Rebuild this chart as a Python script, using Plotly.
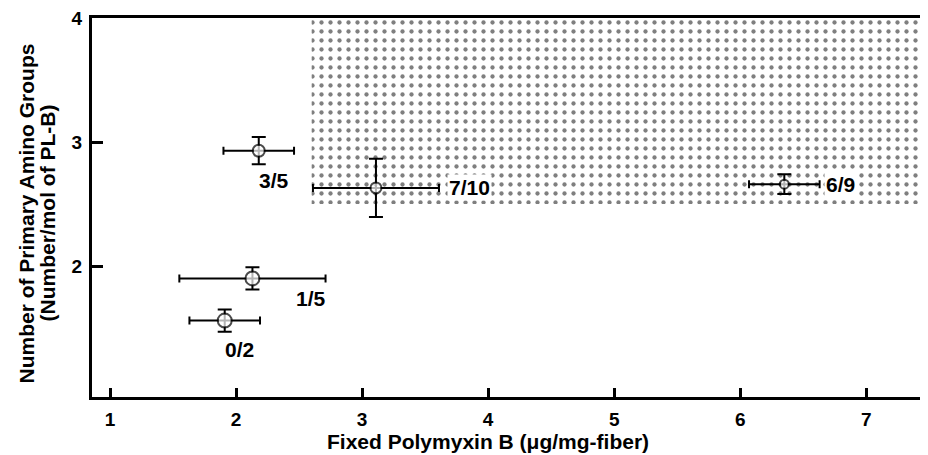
import plotly.graph_objects as go

# fixed polymyxin B (ug/mg-fiber) and primary amino groups per mol of PL-B
labels = ['0/2', '1/5', '3/5', '7/10', '6/9']
fixed_pmb = [1.91, 2.13, 2.18, 3.11, 6.35]
fixed_pmb_err = [0.28, 0.58, 0.28, 0.50, 0.28]
amino_groups = [1.56, 1.90, 2.93, 2.63, 2.66]
amino_groups_err = [0.09, 0.09, 0.11, 0.235, 0.08]

# dotted region
region_x = [2.6, 7.6]
region_y = [2.5, 4.0]

x_ticks = [1, 2, 3, 4, 5, 6, 7]
y_ticks = [2, 3, 4]

FONT = 'Liberation Sans, Arial, sans-serif'

fig = go.Figure()

fig.add_trace(go.Scatter(
    x=[region_x[0], region_x[1], region_x[1], region_x[0], region_x[0]],
    y=[region_y[0], region_y[0], region_y[1], region_y[1], region_y[0]],
    fill='toself',
    mode='lines',
    line={'width': 0, 'color': 'rgba(0,0,0,0)'},
    fillcolor='rgba(0,0,0,0)',
    fillpattern={'shape': '.', 'size': 9, 'solidity': 0.18,
                 'fgcolor': 'black', 'bgcolor': 'white'},
    hoverinfo='skip',
    showlegend=False
))

fig.add_trace(go.Scatter(
    x=fixed_pmb,
    y=amino_groups,
    mode='markers',
    marker={
        'size': [14, 14, 12, 11, 9],
        'color': 'white',
        'symbol': 'circle',
        'line': {'width': 2, 'color': 'black'}
    },
    error_x={'type': 'data', 'array': fixed_pmb_err, 'color': 'black',
             'thickness': 2, 'width': 4},
    error_y={'type': 'data', 'array': amino_groups_err, 'color': 'black',
             'thickness': 2, 'width': 7},
    showlegend=False
))

# label offsets (px) from each point
offsets = [(15, -29, 'center'), (59, -20, 'center'), (15, -30, 'center'),
           (71, 0, 'left'), (40, 0, 'left')]
for lab, x, y, (dx, dy, anchor) in zip(labels, fixed_pmb, amino_groups, offsets):
    fig.add_annotation(
        x=x, y=y, xref='x', yref='y', text=lab, showarrow=False,
        xshift=dx, yshift=dy, xanchor=anchor, yanchor='middle',
        bgcolor='white', borderpad=1,
        font={'family': FONT, 'size': 21, 'color': 'black', 'weight': 'bold'}
    )

title_font = {'family': FONT, 'size': 21, 'color': 'black', 'weight': 'bold'}
fig.add_annotation(
    x=4.0, y=0, xref='x', yref='paper', yanchor='middle', yshift=-44,
    text='Fixed Polymyxin B (\u03bcg/mg-fiber)', showarrow=False,
    font=title_font
)
fig.add_annotation(
    x=0, y=0.5, xref='paper', yref='paper', xanchor='center', yanchor='middle',
    xshift=-66, yshift=-6, textangle=-90,
    text='Number of Primary Amino Groups', showarrow=False,
    font=title_font
)
fig.add_annotation(
    x=0, y=0.5, xref='paper', yref='paper', xanchor='center', yanchor='middle',
    xshift=-45, yshift=-6, textangle=-90,
    text='(Number/mol of PL-B)', showarrow=False,
    font=title_font
)

# page body adds an 8px margin, so the figure is 8px smaller than the window
fig.update_layout(
    width=920, height=447,
    margin={'l': 84, 'r': 0, 't': 7, 'b': 58},
    paper_bgcolor='white', plot_bgcolor='white',
    font={'family': FONT, 'size': 19, 'color': 'black', 'weight': 'bold'},
    xaxis={
        'range': [0.857, 7.49], 'tickvals': x_ticks, 'ticks': 'inside',
        'ticklen': 9, 'tickwidth': 3, 'tickcolor': 'black',
        'showline': True, 'linewidth': 3, 'linecolor': 'black', 'mirror': True,
        'showgrid': False, 'zeroline': False, 'ticklabelstandoff': 3
    },
    yaxis={
        'range': [0.944, 4.0], 'tickvals': y_ticks, 'ticks': 'inside',
        'ticklen': 11, 'tickwidth': 3, 'tickcolor': 'black',
        'showline': True, 'linewidth': 3, 'linecolor': 'black',
        'showgrid': False, 'zeroline': False, 'ticklabelstandoff': 3,
        'ticklabeloverflow': 'allow'
    }
)

fig.write_html("out.html")
